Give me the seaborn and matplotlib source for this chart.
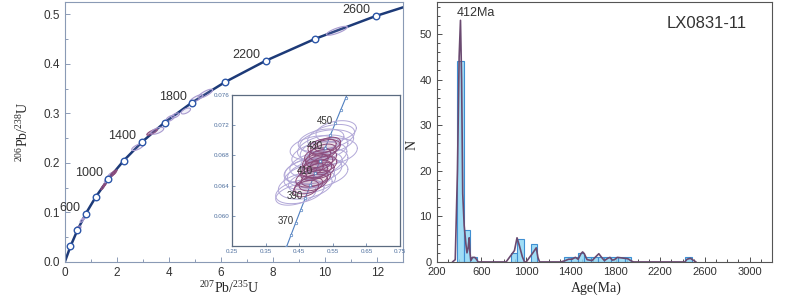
import numpy as np
import matplotlib
matplotlib.use("Agg")
import matplotlib.pyplot as plt
from matplotlib.ticker import MultipleLocator
import seaborn as sns

# concordia (Ma, 207Pb/235U, 206Pb/238U)
conc_age = [0, 200, 400, 600, 800, 1000, 1200, 1400, 1600, 1800, 2000, 2200, 2400, 2600, 2800]
conc_207 = [0, 0.2177, 0.4828, 0.8056, 1.1987, 1.6774, 2.2603, 2.9701, 3.8344, 4.8869,
            6.1685, 7.7292, 9.6296, 11.9438, 14.7617]
conc_206 = [0, 0.03151, 0.06402, 0.09754, 0.13213, 0.16780, 0.20460, 0.24256, 0.28172,
            0.32211, 0.36377, 0.40674, 0.45107, 0.49679, 0.54396]
conc_labels = [600, 1000, 1400, 1800, 2200, 2600]

# inset concordia
ins_age = [350, 360, 370, 380, 390, 400, 410, 420, 430, 440, 450, 460, 470, 480]
ins_207 = [0.4116, 0.4255, 0.4396, 0.4539, 0.4683, 0.4828, 0.4975, 0.5122, 0.5273,
           0.5424, 0.5576, 0.5731, 0.5886, 0.6043]
ins_206 = [0.05580, 0.05743, 0.05908, 0.06072, 0.06237, 0.06402, 0.06567, 0.06732,
           0.06898, 0.07064, 0.07230, 0.07397, 0.07563, 0.07730]
ins_labels = [370, 390, 410, 430, 450]

# young zircon ellipses: centre x, centre y, err x, err y, rho
lt_x = [0.452, 0.468, 0.480, 0.492, 0.500, 0.510, 0.520, 0.532, 0.545, 0.538, 0.488,
        0.505, 0.470, 0.525, 0.515, 0.440, 0.560, 0.498]
lt_y = [0.0632, 0.0640, 0.0652, 0.0660, 0.0668, 0.0680, 0.0690, 0.0698, 0.0705, 0.0685,
        0.0645, 0.0656, 0.0660, 0.0672, 0.0700, 0.0628, 0.0712, 0.0690]
lt_sx = [0.072, 0.080, 0.075, 0.085, 0.078, 0.082, 0.075, 0.080, 0.070, 0.085, 0.070,
         0.090, 0.065, 0.070, 0.068, 0.060, 0.060, 0.075]
lt_sy = [0.0016, 0.0018, 0.0017, 0.0018, 0.0017, 0.0018, 0.0017, 0.0016, 0.0016, 0.0018,
         0.0015, 0.0019, 0.0016, 0.0017, 0.0015, 0.0014, 0.0014, 0.0016]
lt_rho = [0.35, 0.30, 0.35, 0.30, 0.35, 0.30, 0.35, 0.30, 0.35, 0.25, 0.35, 0.30, 0.40,
          0.30, 0.35, 0.40, 0.30, 0.30]

dk_x = [0.478, 0.488, 0.495, 0.502, 0.508, 0.515, 0.520, 0.528, 0.498, 0.512, 0.485,
        0.522, 0.535, 0.492, 0.505, 0.470, 0.518, 0.500]
dk_y = [0.0640, 0.0650, 0.0658, 0.0662, 0.0670, 0.0676, 0.0684, 0.0690, 0.0672, 0.0660,
        0.0662, 0.0668, 0.0694, 0.0644, 0.0680, 0.0636, 0.0692, 0.0650]
dk_sx = [0.042, 0.048, 0.040, 0.045, 0.042, 0.046, 0.040, 0.044, 0.038, 0.042, 0.037,
         0.040, 0.038, 0.042, 0.039, 0.038, 0.042, 0.044]
dk_sy = [0.0011, 0.0012, 0.0011, 0.0012, 0.0011, 0.0012, 0.0011, 0.0011, 0.0010, 0.0011,
         0.0010, 0.0011, 0.0010, 0.0011, 0.0010, 0.0011, 0.0010, 0.0011]
dk_rho = [0.40, 0.35, 0.40, 0.35, 0.40, 0.35, 0.40, 0.35, 0.40, 0.35, 0.40, 0.35, 0.40,
          0.40, 0.35, 0.40, 0.35, 0.40]

# older zircons on the main diagram
old_x = [0.66, 0.74, 1.46, 1.54, 1.62, 1.76, 1.84, 1.92, 2.80, 3.35, 3.55, 4.05, 4.25, 4.65, 5.05, 5.40, 10.45]
old_y = [0.084, 0.089, 0.151, 0.157, 0.166, 0.175, 0.178, 0.181, 0.232, 0.262, 0.265, 0.290, 0.296, 0.305, 0.330, 0.340, 0.467]
old_sx = [0.07, 0.06, 0.07, 0.07, 0.10, 0.12, 0.10, 0.08, 0.23, 0.20, 0.25, 0.16, 0.15, 0.18, 0.25, 0.28, 0.40]
old_sy = [0.004, 0.004, 0.005, 0.005, 0.006, 0.006, 0.006, 0.005, 0.007, 0.006, 0.007, 0.006, 0.005, 0.006, 0.008, 0.009, 0.009]
old_rho = [0.7, 0.7, 0.8, 0.8, 0.7, 0.7, 0.8, 0.8, 0.7, 0.8, 0.6, 0.6, 0.6, 0.6, 0.8, 0.8, 0.8]
old_dark = [0, 0, 1, 1, 0, 0, 1, 1, 0, 1, 0, 0, 0, 0, 0, 0, 0]

# histogram (60 Ma bins) and probability curve
bin_left = [380, 440, 500, 860, 920, 1040, 1340, 1400, 1460, 1520, 1580, 1640, 1700, 1760, 1820, 1880, 2420]
bin_count = [44, 7, 1, 2, 5, 4, 1, 1, 2, 1, 1, 1, 1, 1, 1, 1, 1]
pdf_age = [340, 365, 385, 400, 412, 422, 432, 445, 460, 470, 480, 490, 497, 505, 520, 540, 555, 570,
           820, 850, 880, 895, 918, 940, 965, 985, 1000, 1030, 1060, 1090, 1105, 1120,
           1310, 1350, 1380, 1410, 1440, 1465, 1490, 1505, 1520, 1545, 1590, 1625, 1650, 1675,
           1700, 1730, 1750, 1770, 1790, 1815, 1850, 1880, 1910, 1935, 1960,
           2420, 2440, 2470, 2500, 2520]
pdf_val = [0, 0.5, 20, 45, 53, 40, 15, 8, 4, 2, 3, 5.3, 2, 0.3, 1, 1, 0.6, 0,
           0, 1, 2, 2.5, 5.3, 3.5, 1.2, 0, 0, 1, 2, 3.1, 1, 0,
           0, 0.3, 0.6, 0.6, 1.0, 0.6, 1.8, 2.2, 1.8, 0.5, 0.3, 1.2, 1.8, 1.0,
           0.3, 0.8, 1.0, 0.4, 0.5, 1.0, 0.9, 0.8, 0.7, 0.3, 0,
           0, 0.6, 0.8, 0.3, 0]
hist_ticks = [200, 600, 1000, 1400, 1800, 2200, 2600, 3000]

sns.set_style("ticks")
plt.rcParams["font.family"] = ["Liberation Sans", "DejaVu Sans"]
plt.rcParams["mathtext.fontset"] = "custom"
plt.rcParams["mathtext.rm"] = "Liberation Serif"
plt.rcParams["mathtext.it"] = "Liberation Serif:italic"

LIGHT = "#a99bd0"
DARK = "#8c4c7c"
NAVY = "#1d3a78"


def ellipse(ax, cx, cy, sx, sy, rho, color, lw, fill, z):
    t = np.linspace(0, 2 * np.pi, 80)
    ex = cx + sx * np.cos(t)
    ey = cy + sy * (rho * np.cos(t) + np.sqrt(1 - rho ** 2) * np.sin(t))
    if fill > 0:
        ax.fill(ex, ey, color=color, alpha=fill, lw=0, zorder=z)
    ax.plot(ex, ey, color=color, lw=lw, zorder=z)


def style_ticks(ax, color, size):
    ax.tick_params(which="both", direction="in", colors=color, labelsize=size, width=0.6)
    ax.tick_params(which="major", length=3.5)
    ax.tick_params(which="minor", length=2)


fig = plt.figure(figsize=(8, 2.97), dpi=100)

# ---- concordia diagram ----
ax1 = fig.add_axes([0.081, 0.118, 0.423, 0.875])
sns.lineplot(x=conc_207, y=conc_206, ax=ax1, color=NAVY, lw=1.8, zorder=2)
for i in range(len(old_x)):
    c = DARK if old_dark[i] else LIGHT
    ellipse(ax1, old_x[i], old_y[i], old_sx[i], old_sy[i], old_rho[i], c, 0.8,
            0.45 if old_dark[i] else 0.15, 3)
for i in range(len(lt_x)):
    ellipse(ax1, lt_x[i], lt_y[i], lt_sx[i], lt_sy[i], lt_rho[i], LIGHT, 0.6, 0.2, 3)
for i in range(len(dk_x)):
    ellipse(ax1, dk_x[i], dk_y[i], dk_sx[i], dk_sy[i], dk_rho[i], DARK, 0.6, 0.5, 3)
sns.scatterplot(x=conc_207[1:14], y=conc_206[1:14], ax=ax1, s=22, marker="o",
                facecolor="white", edgecolor="#2c56a8", linewidth=1.0, zorder=4)
for a, x, y in zip(conc_age, conc_207, conc_206):
    if a in conc_labels:
        ax1.annotate(str(a), (x, y), xytext=(-4, 4), textcoords="offset points",
                     ha="right", va="center", fontsize=9, color="#333333")
ax1.set_xlim(0, 13)
ax1.set_ylim(0, 0.525)
ax1.xaxis.set_major_locator(MultipleLocator(2))
ax1.xaxis.set_minor_locator(MultipleLocator(1))
ax1.yaxis.set_major_locator(MultipleLocator(0.1))
ax1.yaxis.set_minor_locator(MultipleLocator(0.05))
ax1.yaxis.set_major_formatter(lambda v, p: f"{v:.1f}")
style_ticks(ax1, "#333333", 8.5)
ax1.tick_params(which="both", color="#7a8cab")
for s in ax1.spines.values():
    s.set_color("#8a9ab5")
    s.set_linewidth(0.8)
ax1.set_xlabel(r"$^{207}$Pb/$^{235}$U", fontsize=10, fontfamily="Liberation Serif")
ax1.set_ylabel(r"$^{206}$Pb/$^{238}$U", fontsize=10, fontfamily="Liberation Serif")
ax1.xaxis.set_label_coords(0.485, -0.07)
ax1.yaxis.set_label_coords(-0.1, 0.5)

# ---- inset ----
axi = fig.add_axes([0.29, 0.172, 0.21, 0.508])
sns.lineplot(x=ins_207, y=ins_206, ax=axi, color="#4f7fc0", lw=0.8, zorder=2)
axi.plot(ins_207, ins_206, "o", ms=1.8, mfc="white", mec="#4f7fc0", mew=0.5, zorder=5)
for i in range(len(lt_x)):
    ellipse(axi, lt_x[i], lt_y[i], lt_sx[i], lt_sy[i], lt_rho[i], "#b2a8d8", 0.7, 0.0, 3)
for i in range(len(dk_x)):
    ellipse(axi, dk_x[i], dk_y[i], dk_sx[i], dk_sy[i], dk_rho[i], DARK, 0.7, 0.06, 3)
for a, x, y in zip(ins_age, ins_207, ins_206):
    if a in ins_labels:
        axi.annotate(str(a), (x, y), xytext=(-1.5, 1.5), textcoords="offset points",
                     ha="right", va="center", fontsize=7, color="#333333", zorder=6)
axi.set_xlim(0.25, 0.75)
axi.set_ylim(0.056, 0.076)
axi.set_xticks([0.25, 0.35, 0.45, 0.55, 0.65, 0.75])
axi.set_yticks([0.060, 0.064, 0.068, 0.072, 0.076])
axi.xaxis.set_major_formatter(lambda v, p: f"{v:.2f}")
axi.yaxis.set_major_formatter(lambda v, p: f"{v:.3f}")
axi.tick_params(direction="in", length=2, width=0.5, labelsize=4.5,
                colors="#4e6f9e", pad=2)
for s in axi.spines.values():
    s.set_color("#5b6b80")
    s.set_linewidth(0.9)

# ---- histogram ----
ax2 = fig.add_axes([0.546, 0.118, 0.419, 0.875])
sns.histplot(x=np.array(bin_left) + 30, weights=bin_count, binwidth=60,
             binrange=(380, 2480), ax=ax2, color="#8fd8f5", edgecolor="#3f8fd2",
             linewidth=0.8, alpha=0.85, zorder=2)
sns.lineplot(x=pdf_age, y=pdf_val, ax=ax2, sort=False, color="#6a4a70", lw=1.2, zorder=3)
ax2.text(553, 54.6, "412Ma", fontsize=9, ha="center", va="center", color="#333333")
ax2.text(2612, 52.4, "LX0831-11", fontsize=12, ha="center", va="center", color="#333333")
ax2.set_xlim(200, 3200)
ax2.set_ylim(0, 57)
ax2.set_xticks(hist_ticks)
ax2.xaxis.set_minor_locator(MultipleLocator(100))
ax2.yaxis.set_major_locator(MultipleLocator(10))
ax2.yaxis.set_minor_locator(MultipleLocator(2))
style_ticks(ax2, "#333333", 8)
for s in ax2.spines.values():
    s.set_color("#555555")
    s.set_linewidth(0.8)
ax2.set_xlabel("Age(Ma)", fontsize=10, fontfamily="Liberation Serif")
ax2.set_ylabel("N", fontsize=10, fontfamily="Liberation Serif")
ax2.xaxis.set_label_coords(0.475, -0.075)
ax2.yaxis.set_label_coords(-0.055, 0.45)

fig.savefig("out.png", dpi=100)
